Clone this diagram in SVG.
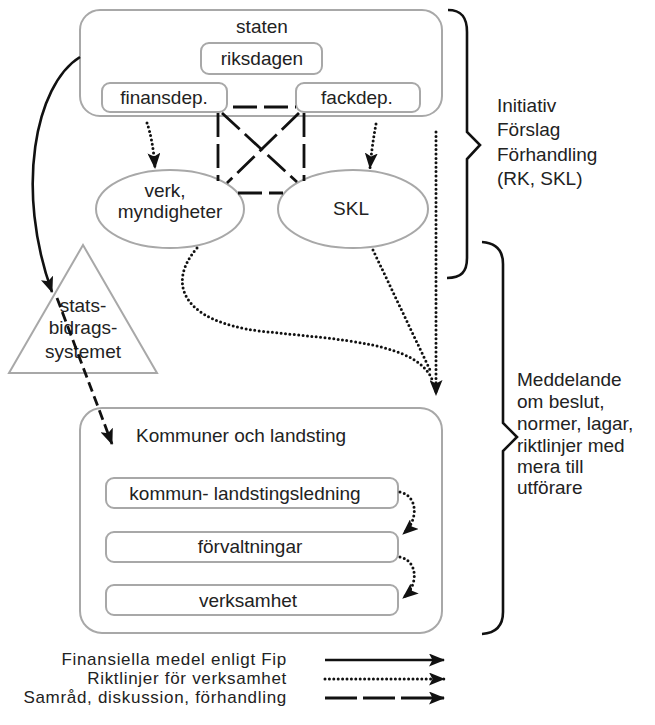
<svg xmlns="http://www.w3.org/2000/svg" width="655" height="725" viewBox="0 0 655 725">
<style>
text{font-family:"Liberation Sans",Arial,sans-serif;font-size:19px;fill:#222}
.c{text-anchor:middle}
.e{text-anchor:end}
.leg{font-size:17px;letter-spacing:0.7px}
.box{fill:#fff;stroke:#a8a8a8;stroke-width:2}
.node{fill:#fff;stroke:#a8a8a8;stroke-width:2}
.solid{fill:none;stroke:#111;stroke-width:2.6}
.dot{fill:none;stroke:#111;stroke-width:3;stroke-dasharray:0 4.4;stroke-linecap:round}
.dash{fill:none;stroke:#111;stroke-width:2.8}
.brace{fill:none;stroke:#111;stroke-width:2.6}
</style>
<defs>
<marker id="ah" markerUnits="userSpaceOnUse" markerWidth="17" markerHeight="13" refX="15" refY="6.5" orient="auto" viewBox="0 0 17 13">
<path d="M0,0 L16,6.5 L0,13 L3.5,6.5 z" fill="#111"/>
</marker>
</defs>

<g id="staten">
<rect class="box" x="80" y="10" width="362" height="106" rx="20"/>
<text class="c" x="262" y="33">staten</text>
</g>
<g id="riksdagen">
<rect class="box" x="201" y="43" width="121" height="31" rx="8"/>
<text class="c" x="262" y="65">riksdagen</text>
</g>
<g id="finansdep">
<rect class="box" x="102" y="83" width="125" height="29" rx="8"/>
<text class="c" x="164" y="104">finansdep.</text>
</g>
<g id="fackdep">
<rect class="box" x="296" y="83" width="124" height="29" rx="8"/>
<text class="c" x="357" y="104">fackdep.</text>
</g>
<g id="verk">
<ellipse class="node" cx="170" cy="209" rx="74" ry="39"/>
<text class="c" x="165" y="197">verk,</text>
<text class="c" x="170" y="218">myndigheter</text>
</g>
<g id="skl">
<ellipse class="node" cx="353" cy="209" rx="75" ry="39"/>
<text class="c" x="351" y="215">SKL</text>
</g>
<g id="statsbidrag">
<polygon class="node" points="83,245 9,373 157,373"/>
<text class="c" x="83" y="312">stats-</text>
<text class="c" x="83" y="334">bidrags-</text>
<text class="c" x="83" y="358">systemet</text>
</g>
<g id="kommuner">
<rect class="box" x="80" y="408" width="362" height="225" rx="22"/>
<text x="136" y="442">Kommuner och landsting</text>
</g>
<g id="ledning">
<rect class="box" x="106" y="478" width="292" height="30" rx="8"/>
<text class="c" x="245" y="500">kommun- landstingsledning</text>
</g>
<g id="forvaltningar">
<rect class="box" x="106" y="532" width="292" height="30" rx="8"/>
<text class="c" x="250" y="553">förvaltningar</text>
</g>
<g id="verksamhet">
<rect class="box" x="106" y="585" width="292" height="30" rx="8"/>
<text class="c" x="248" y="607">verksamhet</text>
</g>

<g id="connectors">
<g class="dash" style="stroke-dasharray:24 7">
<line x1="233" y1="107" x2="296" y2="107"/>
<line x1="218" y1="113" x2="218" y2="181"/>
<line x1="304" y1="113" x2="304" y2="181"/>
<line x1="222" y1="113" x2="297" y2="182"/>
<line x1="299" y1="113" x2="227" y2="183"/>
<line x1="238" y1="193" x2="283" y2="193"/>
</g>
<path class="solid" d="M80,57 C35,85 15,190 52,292" marker-end="url(#ah)"/>
<path class="dash" style="stroke-dasharray:10 5" d="M57,298 L112,444" marker-end="url(#ah)"/>
<path class="dot" d="M147,123 Q153,140 155,168" marker-end="url(#ah)"/>
<path class="dot" d="M376,124 Q372,145 370,168" marker-end="url(#ah)"/>
<path class="dot" d="M436,132 L436,395" marker-end="url(#ah)"/>
<path class="dot" d="M197,248 C165,285 185,322 260,331 C340,340 420,342 433,382"/>
<path class="dot" d="M373,250 L431,372"/>
<path class="dot" d="M400,492 C418,496 419,520 403,534" marker-end="url(#ah)"/>
<path class="dot" d="M400,557 C418,561 419,585 403,598" marker-end="url(#ah)"/>
<path class="brace" d="M448,10 C462,10 467,18 467,32 L467,132 L480,145 L467,159 L467,258 C467,272 461,278 447,278"/>
<path class="brace" d="M482,242 C496,243 503,250 503,264 L503,423 L517,437 L503,451 L503,612 C503,626 496,633 482,634"/>
<path class="solid" d="M325,660 L444,660" marker-end="url(#ah)"/>
<path class="dot" d="M325,679 L444,679" marker-end="url(#ah)"/>
<path class="dash" style="stroke-dasharray:32 6" d="M325,698 L444,698" marker-end="url(#ah)"/>
</g>

<g id="labels">
<text x="497" y="112">Initiativ</text>
<text x="497" y="136">Förslag</text>
<text x="497" y="161">Förhandling</text>
<text x="497" y="185">(RK, SKL)</text>
<text x="517" y="386">Meddelande</text>
<text x="517" y="408">om beslut,</text>
<text x="517" y="430">normer, lagar,</text>
<text x="517" y="452">riktlinjer med</text>
<text x="517" y="473">mera till</text>
<text x="517" y="494">utförare</text>
<text class="e leg" x="287" y="665">Finansiella medel enligt Fip</text>
<text class="e leg" x="287" y="684">Riktlinjer för verksamhet</text>
<text class="e leg" x="287" y="703">Samråd, diskussion, förhandling</text>
</g>
</svg>
